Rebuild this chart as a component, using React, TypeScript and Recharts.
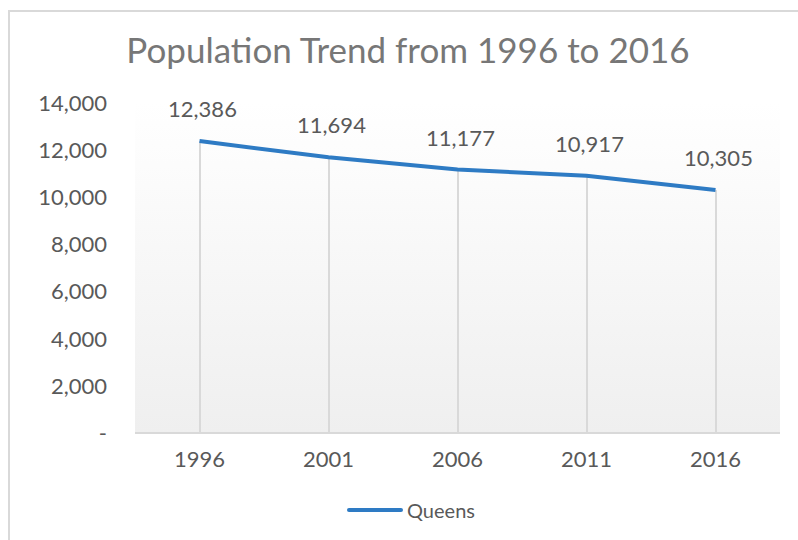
import { Bar, CartesianGrid, ComposedChart, LabelList, Legend, Line, XAxis, YAxis } from 'recharts';

const years = ['1996', '2001', '2006', '2011', '2016'];
const queens = [12386, 11694, 11177, 10917, 10305];
const yTicks = [0, 2000, 4000, 6000, 8000, 10000, 12000, 14000];

const data = years.map((year, i) => ({ year, Queens: queens[i] }));

const FONT = 'Lato, "Open Sans", sans-serif';
const TEXT = '#595959';
const BLUE = '#2e7bc4';
const fmt = (v: number) => (v === 0 ? '-' : v.toLocaleString('en-US'));

const LegendContent = () => (
  <div style={{ height: 30, display: 'flex', alignItems: 'center', paddingLeft: 347, fontFamily: FONT, fontSize: 20, color: TEXT }}>
    <div style={{ width: 56, height: 4, borderRadius: 2, background: BLUE, marginRight: 4 }} />
    <span>Queens</span>
  </div>
);

const App = () => {
  return (
    <div style={{ position: 'absolute', left: 0, top: 0, width: 798, height: 540, background: '#fff', overflow: 'hidden' }}>
      <div style={{ position: 'absolute', left: 8, top: 10, width: 820, height: 560, border: '2px solid #d9d9d9', boxSizing: 'border-box' }} />
      <div style={{ position: 'absolute', left: 14, top: 32, width: 788, textAlign: 'center', fontFamily: FONT, fontSize: 35, lineHeight: '35px', color: '#777777' }}>
        Population Trend from 1996 to 2016
      </div>
      <ComposedChart
        width={798}
        height={540}
        data={data}
        margin={{ top: 103, right: 18, left: 0, bottom: 15 }}
        style={{ position: 'absolute', left: 0, top: 0 }}
      >
        <defs>
          <linearGradient id="plotBg" x1="0" y1="0" x2="0" y2="1">
            <stop offset="0%" stopColor="#ffffff" />
            <stop offset="100%" stopColor="#efefef" />
          </linearGradient>
        </defs>
        <CartesianGrid horizontal={false} vertical={false} fill="url(#plotBg)" />
        <XAxis
          dataKey="year"
          height={62}
          axisLine={{ stroke: '#d9d9d9', strokeWidth: 2 }}
          tickLine={false}
          tickMargin={12}
          tick={{ fill: TEXT, fontSize: 22, fontFamily: FONT }}
        />
        <YAxis
          width={135}
          domain={[0, 14000]}
          ticks={yTicks}
          axisLine={false}
          tickLine={false}
          tickMargin={22}
          tickFormatter={fmt}
          tick={{ fill: TEXT, fontSize: 22, fontFamily: FONT }}
        />
        <Bar dataKey="Queens" barSize={2} fill="#d9d9d9" isAnimationActive={false} legendType="none" />
        <Line
          dataKey="Queens"
          type="linear"
          stroke={BLUE}
          strokeWidth={4}
          dot={false}
          isAnimationActive={false}
        >
          <LabelList
            dataKey="Queens"
            position="top"
            offset={24}
            dx={3}
            formatter={(v: number) => fmt(v)}
            style={{ fill: TEXT, fontSize: 22, fontFamily: FONT }}
          />
        </Line>
        <Legend verticalAlign="bottom" height={30} content={LegendContent} />
      </ComposedChart>
    </div>
  );
};

export default App;
